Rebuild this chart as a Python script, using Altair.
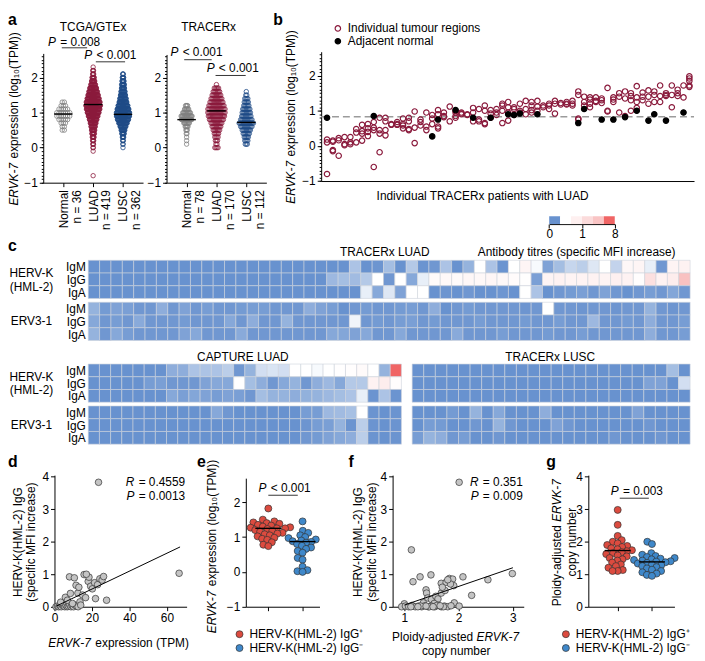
import altair as alt
import pandas as pd

FONT = "Liberation Sans"
W, H = 697, 652
SX, SY = 0.99, 0.99


def X(v):
    return SX * (v - 2)


def Y(v):
    return SY * v - 2


# ============================ DATA ============================
# ---- panel a: ERVK-7 log10(TPM); number of samples per 0.1-wide bin ----
A_GROUPS = ["Normal", "LUAD", "LUSC"]
A_COLORS = ["#808080", "#8a1a3c", "#1f4b87"]
A_TCGA_N = [36, 419, 362]
A_TCGA_BIN_START = [0.5, -0.8, 0.0]
A_TCGA_COUNTS = [
    [2, 2, 3, 5, 7, 7, 5, 3, 2],
    [1, 0, 0, 0, 0, 0, 0, 1, 2, 3, 4, 6, 8, 10, 13, 17, 22, 28, 34, 39, 42, 40, 35, 30, 25, 20, 14, 10, 7, 4, 3, 1],
    [1, 2, 3, 5, 8, 12, 18, 26, 34, 40, 40, 36, 30, 24, 20, 16, 13, 10, 9, 7, 5, 3],
]
A_TCGA_MEDIAN = [0.96, 1.23, 0.95]
A_TCGA_BRACKETS = [(-0.05, 0.80, 2.85), (1.09, 2.07, 2.45)]
A_TCGA_P = ["= 0.008", "< 0.001"]
A_TRACERX_N = [78, 170, 112]
A_TRACERX_BIN_START = [0.1, 0.0, 0.1]
A_TRACERX_COUNTS = [
    [1, 1, 1, 2, 3, 5, 9, 16, 17, 12, 7, 4],
    [4, 2, 3, 4, 5, 7, 9, 11, 14, 16, 17, 17, 15, 13, 11, 9, 7, 5, 1],
    [3, 4, 5, 7, 9, 12, 15, 12, 10, 9, 8, 6, 5, 4, 2, 1],
]
A_TRACERX_MEDIAN = [0.80, 1.05, 0.72]
A_TRACERX_BRACKETS = [(-0.08, 0.84, 2.51), (0.97, 1.98, 2.06)]
A_TRACERX_P = ["< 0.001", "< 0.001"]

# ---- panel b: tumour regions per TRACERx LUAD patient (log10 TPM) ----
B_KINDS = ["Individual tumour regions", "Adjacent normal"]
B_TUMOUR = [
    [-0.80, 0.18, 0.10], [0.15, 0.12, -0.12, -0.15], [0.22, 0.16, -0.28], [0.25, 0.05, 0.02],
    [0.25, 0.10, 0.05], [0.48, 0.38, 0.10], [0.60, 0.42, 0.35, 0.15], [0.62, 0.50, 0.40, 0.28],
    [0.68, 0.52, 0.45, -0.60], [0.80, 0.45, 0.35, -0.18], [0.80, 0.70, 0.45, 0.30], [0.62, 0.60],
    [0.68, 0.62, 0.60], [0.78, 0.62, 0.50, 0.58], [0.80, 0.70, 0.48, 0.45], [0.98, 0.52, 0.08],
    [0.75, 0.68, 0.58], [0.95, 0.55, 0.45], [0.88, 0.78, 0.62], [1.02, 0.90, 0.55, 0.50],
    [0.95, 0.85, 0.82], [1.12, 0.70], [1.00, 0.95, 0.85, 0.80], [0.95, 0.92, 0.90],
    [0.90, 0.88], [1.08, 0.95, 0.70], [1.05, 0.75, 0.70], [1.15, 1.00, 0.65, 0.62],
    [1.02, 0.92, 0.80], [1.05, 0.95, 0.88], [1.20, 1.15, 1.00, 0.65], [1.25, 1.10, 0.95, 0.72],
    [1.10, 1.05, 0.88], [1.20, 1.00, 0.95], [1.28, 1.05, 0.90], [1.25, 1.15, 1.02, 0.95],
    [1.28, 1.12, 1.00], [1.15, 1.10], [1.20, 1.15, 1.05], [1.28, 1.20, 0.92],
    [1.22, 1.18], [1.25, 1.20, 1.18], [1.28, 1.20, 1.15], [1.55, 1.45, 0.78, 0.75],
    [1.40, 1.25, 1.15], [1.38, 1.32, 1.20, 1.10], [1.38, 1.28, 1.25], [1.35, 1.30, 1.22],
    [1.65, 1.00, 0.98], [1.38, 1.32, 1.25], [1.50, 1.40, 0.95], [1.55, 1.35, 0.85],
    [1.50, 1.42, 1.30, 1.00], [1.70, 1.38, 1.25, 1.08], [1.52, 1.40, 1.30], [1.58, 1.40, 1.20],
    [1.55, 1.45, 1.25], [1.72, 1.42, 1.25], [1.50, 1.45, 1.42], [1.72, 1.45, 1.10],
    [1.60, 1.50, 1.42], [1.72, 1.38], [1.98, 1.92, 1.85, 1.72, 1.68],
]
B_NORMAL_PATIENT = [1, 9, 19, 20, 23, 26, 29, 32, 33, 34, 37, 44, 45, 48, 50, 52, 54, 56, 57, 59, 62]
B_NORMAL_VALUE = [0.80, 0.85, 0.27, 0.75, 1.02, 0.80, 0.80, 0.90, 0.88, 0.92, 0.90,
                  0.65, 1.05, 0.75, 0.75, 0.82, 1.00, 0.72, 0.90, 0.72, 0.95]
B_NORMAL_LEVEL = 0.83

# ---- panel c: antibody titres (specific MFI increase), rows IgM/IgG/IgA ----
C_ROWS = ["IgM", "IgG", "IgA"]
C_LUAD_HERVK = [
    [0, 0, 0, 0, 0, 0, 0, 0, 0, 0, 0, 0, 0, 0, 0, 0, 0, 0, 0, 0,
     0, 0, 0, .45, 0, .03, .40, 0, .50, .02, .05, .45, 0, .30, 1.0, .45, .02, 1.0, 1.45, .95,
     .15, .40, .62, .55, .78, 1.0, .60, 1.35, 1.45, .85, .05, 1.5, 1.6],
    [0, 0, 0, 0, 0, 0, 0, 0, 0, 0, 0, 0, 0, 0, 0, 0, 0, 0, 0, 0,
     0, .35, .40, .38, .50, 1.0, .05, 1.0, .20, .85, 1.25, 1.3, 1.25, 1.35, 1.3, 1.4, 1.3, 1.2, 1.05, .12,
     1.5, 1.6, 1.5, 1.55, 1.6, 1.5, 1.7, 1.6, 1.1, 2.4, 1.6, 1.8, 3.8],
    [0, 0, 0, 0, 0, 0, 0, 0, 0, 0, 0, 0, 0, 0, 0, 0, 0, 0, 0, 0,
     0, 0, 0, 0, .85, .20, .78, .15, 1.0, 1.0, 0, .03, 0, .05, 0, 0, .04, 0, 1.0, .45,
     0, .05, .08, .12, .05, .15, .05, 0, .05, .10, .05, .18, .05],
]
C_LUAD_ERV3 = [
    [.30, .08, .15, .12, .05, .05, .25, .05, .15, .05, .10, .05, .05, .08, .10, .10, .05, .05, .05, .25,
     .15, .10, 0, .05, .08, .05, .05, .08, .10, .05, .25, 0, .05, .08, .05, .05, .05, .05, .03, .05,
     1.0, .05, .05, .03, .05, .05, .03, .05, .05, .30, .05, .03, .05],
    [.20, .05, .10, .05, .22, .05, .05, .05, .08, .05, .05, .05, .20, .05, .25, .05, .05, .30, .05, .05,
     .05, .05, .05, .90, .05, .08, .05, .10, .12, .05, .08, .05, .05, .05, .10, .05, .05, .05, .08, .05,
     .05, .10, .05, .05, .35, .05, .05, .08, .05, .25, .05, .05, .10],
    [.30, .05, .20, .10, .05, .05, .05, .05, .15, .20, .05, .05, .05, .22, .05, .05, .05, .05, .05, .05,
     .05, .20, .18, .15, .20, .05, .05, .20, .05, .05, .05, .05, .22, .05, .05, .05, .10, .05, .05, .05,
     .08, .05, .05, .10, .05, .05, .05, .05, .05, .25, .05, .05, .10],
]
C_CAPTURE_HERVK = [
    [0, 0, 0, 0, 0, 0, 0, .25, .25, .45, .45, .45, .55, .05, .30, .70, .75, .70, 1.0, 1.0,
     .95, 1.0, 1.05, 1.1, 1.25, 1.0, .30, 8.0],
    [0, 0, 0, 0, 0, .10, .12, .05, .05, .05, .15, .20, .20, 1.0, .40, .25, .05, .20, .30, .05,
     .25, .35, .20, .50, .50, 1.6, 1.8, 1.1],
    [0, 0, 0, 0, 0, 0, 0, .20, .12, .18, .15, .10, .15, .12, .05, .40, .30, .30, .25, .28,
     .30, .35, .40, .45, .85, .02, .45, .02],
]
C_CAPTURE_ERV3 = [
    [0, 0, 0, 0, 0, 0, 0, 0, 0, 0, 0, .20, .05, 0, 0, 0, 0, 0, 0, .10,
     .10, .35, .38, .42, 1.0, .02, 0, .02],
    [0, 0, 0, 0, 0, 0, 0, 0, 0, 0, 0, 0, 0, 0, 0, 0, 0, 0, 0, .03,
     .10, .12, .30, .02, .55, .02, 0, .02],
    [0, 0, 0, 0, 0, 0, 0, 0, 0, 0, 0, 0, 0, 0, 0, 0, 0, 0, 0, .05,
     .08, .15, .20, .25, .55, .02, 0, .02],
]
C_LUSC_HERVK = [
    [0, 0, 0, 0, 0, 0, 0, 0, 0, 0, 0, 0, 0, 0, 0, 0, 0, 0, 0, 0, 0, 0, .40, 0],
    [0, 0, 0, 0, 0, 0, 0, 0, 0, 0, 0, 0, 0, 0, 0, 0, 0, 0, 0, 0, .15, .15, 0, .70],
    [0, 0, 0, 0, 0, 0, 0, 0, 0, 0, 0, 0, 0, 0, 0, 0, 0, 0, 0, 0, 0, 0, 0, 0],
]
C_LUSC_ERV3 = [
    [0, 0, 0, .08, 0, .30, 0, .20, 0, 0, 0, .25, 0, 0, 0, 0, 0, 0, 0, .15, 0, 0, 0, 0],
    [0, .10, .08, 0, 0, .05, 0, .30, .05, 0, 0, 0, .15, .05, 0, 0, 0, 0, 0, 0, .05, 0, 0, 0],
    [.10, .30, .25, .05, .10, 0, 0, .05, 0, 0, 0, 0, 0, 0, 0, 0, 0, .05, 0, 0, 0, .05, 0, 0],
]
C_LEGEND_VALUES = [0, 1, 1.7, 2.65, 3.7, 8]
C_LEGEND_TICKS = ["0", "1", "8"]

# ---- panel d: ERVK-7 TPM vs HERV-K IgG ----
D_TPM = [23.5, 66.5, 0.8, 1.6, 2.3, 3.0, 3.6, 4.2, 4.9, 5.5, 6.1, 6.8, 7.4, 8.1, 8.8, 9.5, 10.2, 11.0,
         11.8, 12.6, 3.3, 5.8, 6.9, 8.5, 8.0, 9.6, 10.6, 11.5, 12.5, 13.6, 14.0, 15.0, 15.8, 16.6,
         18.0, 18.4, 19.3, 20.2, 21.4, 21.9, 23.0, 24.2, 25.4, 26.2, 27.8, 17.0, 13.0]
D_IGG = [3.83, 1.03, 0.0, 0.02, 0.0, 0.03, 0.0, 0.05, 0.02, 0.0, 0.04, 0.0, 0.02, 0.06, 0.0, 0.03, 0.0, 0.05,
         0.02, 0.0, 0.14, 0.29, 0.20, 0.41, 0.92, 0.10, 0.89, 0.66, 0.42, 0.15, 0.05, 0.36, 0.99, 0.28,
         0.78, 0.91, 0.63, 0.55, 0.74, 0.25, 0.68, 0.86, 0.82, 0.93, 0.20, 1.00, 0.60]
D_FIT = [1.0, 0.02, 67.0, 1.84]
D_STATS = ["= 0.4559", "= 0.0013"]

# ---- panel e: ERVK-7 expression by IgG status ----
E_GROUPS = ["HERV-K(HML-2) IgG\u207a", "HERV-K(HML-2) IgG\u207b"]
E_POS = [1.82, 1.50, 1.45, 1.42, 1.40, 1.38, 1.35, 1.33, 1.30, 1.28, 1.27, 1.25, 1.25, 1.23, 1.20,
         1.18, 1.15, 1.12, 1.10, 1.08, 1.05, 1.02, 0.98, 0.95, 0.92, 0.85, 0.78, 0.74]
E_NEG = [1.45, 1.18, 1.12, 1.05, 1.00, 0.97, 0.93, 0.90, 0.88, 0.86, 0.84, 0.80, 0.75, 0.70, 0.66,
         0.60, 0.55, 0.40, 0.35, 0.15, 0.05, 0.02, 0.00]
E_MEDIAN = [1.25, 0.87]
E_P = "< 0.001"

# ---- panel f: copy number vs HERV-K IgG ----
F_CN = [2.01, 1.13, 1.16, 1.29, 1.49, 1.40, 1.41, 1.43, 1.50, 1.58, 1.62, 1.68, 1.68, 1.77, 1.83,
        1.89, 1.91, 2.08, 2.24, 2.54, 2.99, 1.92, 2.01, 1.00, 1.55, 1.35, 1.75, 1.85, 1.70, 1.80,
        0.95, 1.02, 1.08, 1.14, 1.20, 1.26, 1.32, 1.38, 1.44, 1.50, 1.56, 1.62, 1.68, 1.74, 1.80,
        1.86, 1.12, 1.30, 1.46, 1.60, 1.72, 1.25, 1.40, 1.53, 1.66]
F_IGG = [3.83, 1.75, 0.77, 0.92, 0.98, 0.52, 0.42, 0.27, 0.22, 0.32, 0.24, 0.42, 0.72, 0.75, 0.87,
         0.85, 0.65, 0.92, 0.35, 0.83, 1.02, 0.12, 0.02, 0.09, 0.10, 0.12, 0.50, 0.70, 0.60, 0.83,
         0.0, 0.02, 0.0, 0.04, 0.0, 0.02, 0.0, 0.03, 0.0, 0.02, 0.0, 0.04, 0.0, 0.02, 0.0,
         0.03, 0.0, 0.02, 0.0, 0.04, 0.0, 0.0, 0.02, 0.0, 0.03]
F_FIT = [1.0, 0.05, 3.0, 1.20]
F_STATS = ["= 0.351", "= 0.009"]

# ---- panel g: copy number by IgG status ----
G_POS = [2.98, 2.52, 2.18, 2.05, 2.00, 1.95, 1.90, 1.87, 1.84, 1.80, 1.77, 1.74, 1.71, 1.68, 1.65,
         1.62, 1.58, 1.55, 1.50, 1.46, 1.42, 1.36, 1.30, 1.25, 1.20, 1.13, 1.10, 1.10]
G_NEG = [2.00, 1.93, 1.65, 1.60, 1.56, 1.53, 1.50, 1.48, 1.46, 1.44, 1.42, 1.40, 1.39, 1.37, 1.35,
         1.33, 1.30, 1.28, 1.25, 1.22, 1.18, 1.14, 1.10, 1.06, 1.02, 0.98, 0.95]
G_MEDIAN = [1.73, 1.38]
G_P = "= 0.003"

# ============================ STYLE HELPERS ============================
MAROON_B = "#8a1a3c"
HM_SCALE = alt.Scale(type="linear", domain=[0, 1, 8], range=["#6892cf", "#ffffff", "#f06565"],
                     interpolate="rgb", clamp=True)
POS_RED, NEG_BLUE = "#dc4b3f", "#3f88ca"
PT_STROKE = "#333333"


def lin(d0, d1, r0, r1):
    return alt.Scale(type="linear", domain=[d0, d1], range=[r0, r1], nice=False, zero=False)


AX = dict(grid=False, title=None, domainColor="black", tickColor="black", labelColor="black",
          labelFont=FONT, labelFontSize=12, domainWidth=1, tickWidth=1, tickSize=4, labelPadding=2)


def left_axis(xpx, **kw):
    d = dict(AX)
    d.update(orient="left", offset=-X(xpx))
    d.update(kw)
    return alt.Axis(**d)


def bottom_axis(ypx, **kw):
    d = dict(AX)
    d.update(orient="bottom", offset=Y(ypx) - H, labelFlush=False)
    d.update(kw)
    return alt.Axis(**d)


def minor_axis(xpx, lo, hi):
    vals = [round(lo + 0.1 * i, 2) for i in range(int(round((hi - lo) * 10)) + 1)]
    return left_axis(xpx, values=vals, labels=False, domain=False, tickSize=2)


CW = {' ': 278, '(': 333, ')': 333, '-': 333, '.': 278, '/': 278, '=': 584, '<': 584,
      'A': 667, 'B': 667, 'C': 722, 'D': 722, 'E': 667, 'G': 778, 'H': 722, 'I': 278,
      'K': 667, 'L': 556, 'M': 833, 'N': 722, 'P': 667, 'R': 722, 'S': 667, 'T': 611,
      'U': 722, 'V': 667, 'X': 667, 'a': 556, 'b': 556, 'c': 500, 'd': 556, 'e': 556,
      'f': 278, 'g': 556, 'h': 556, 'i': 222, 'j': 222, 'k': 500, 'l': 222, 'm': 833,
      'n': 556, 'o': 556, 'p': 556, 'r': 333, 's': 500, 't': 278, 'u': 556, 'v': 500,
      'w': 722, 'x': 500, 'y': 500, 'z': 500, '\u2081': 420, '\u2080': 420}


def tw(s, size=12):
    return sum(CW.get(ch, 556) for ch in s) * size / 1000.0


ANN = []


def put(x, y, s, size=12, weight="normal", style="normal", align="left", angle=0):
    ANN.append(dict(x=float(x), y=float(y), t=s, size=float(size), weight=weight,
                    style=style, align=align, angle=int(angle)))


def mixed(xr, yr, pieces, anchor="center", rotated=False, size=12):
    xc, yc = X(xr), Y(yr)
    widths = [tw(p, size) + (1.0 if it else 0.0) for p, it in pieces]
    total = sum(widths)
    cur = {"center": -total / 2, "left": 0.0, "right": -total}[anchor]
    for (p, it), w in zip(pieces, widths):
        lead = tw(p[: len(p) - len(p.lstrip(" "))], size)
        pos = cur + lead
        st = "italic" if it else "normal"
        if rotated:
            put(xc, yc - pos, p.strip(), size, style=st, angle=270)
        else:
            put(xc + pos, yc, p.strip(), size, style=st)
        cur += w


def swarm(values, ppu_y, diam):
    order = sorted(range(len(values)), key=lambda i: values[i])
    placed, offs = [], [0.0] * len(values)
    for i in order:
        y = values[i] * ppu_y
        blocks, cands = [], [0.0]
        for px_, py_ in placed:
            dy = abs(py_ - y)
            if dy < diam:
                dx = (diam ** 2 - dy ** 2) ** 0.5
                blocks.append((px_ - dx, px_ + dx))
                cands += [px_ - dx, px_ + dx]
        cands.sort(key=lambda c: (abs(c), c))
        for c in cands:
            if all(not (lo + 1e-6 < c < hi - 1e-6) for lo, hi in blocks):
                offs[i] = c
                break
        placed.append((offs[i], y))
    return offs


layers = []

# ============================ PANEL a ============================
def panel_a(ax_px, cat0_px, right_px, top_val, starts, counts, medians, spacing, ns, brackets):
    ppu = 30.5
    xs = lin((ax_px - cat0_px) / ppu, (right_px - cat0_px) / ppu, X(ax_px), X(right_px))
    ys = lin(-1, top_val, Y(176.7), Y(176.7 - (top_val + 1) * 35.8))
    rows = []
    for gi in range(3):
        for k, n in enumerate(counts[gi]):
            v = round(starts[gi] + 0.1 * k, 3)
            for i in range(n):
                rows.append({"x": gi + (i - (n - 1) / 2) * spacing[gi] / ppu, "y": v, "g": A_GROUPS[gi]})
    pts = pd.DataFrame(rows)
    arr = "[" + ",".join("['%s','n = %d']" % (g, n) for g, n in zip(A_GROUPS, ns)) + "]"
    xax = bottom_axis(176.7, values=[0, 1, 2], labelExpr=arr + "[datum.value]", labelAngle=270,
                      labelAlign="right", labelBaseline="middle", labelLineHeight=13, labelPadding=3)
    out = [alt.Chart(pts).mark_point(filled=False, size=20, strokeWidth=0.8, opacity=1).encode(
        x=alt.X("x:Q", scale=xs, axis=xax),
        y=alt.Y("y:Q", scale=ys, axis=left_axis(ax_px, values=[-1, 0, 1, 2])),
        color=alt.Color("g:N", scale=alt.Scale(domain=A_GROUPS, range=A_COLORS), legend=None))]
    med = pd.DataFrame({"x": [i - 0.31 for i in range(3)], "x2": [i + 0.31 for i in range(3)], "y": medians})
    out.append(alt.Chart(med).mark_rule(color="black", strokeWidth=1.4).encode(
        x=alt.X("x:Q", scale=xs, axis=None), x2="x2:Q",
        y=alt.Y("y:Q", scale=ys, axis=minor_axis(ax_px, -1, top_val - 0.05))))
    br = pd.DataFrame(brackets, columns=["x", "x2", "y"])
    out.append(alt.Chart(br).mark_rule(color="black", strokeWidth=0.8).encode(
        x=alt.X("x:Q", scale=xs, axis=None), x2="x2:Q", y=alt.Y("y:Q", scale=ys, axis=None)))
    return out


layers += panel_a(38, 58.5, 140, 2.69, A_TCGA_BIN_START, A_TCGA_COUNTS, A_TCGA_MEDIAN,
                  [2.2, 0.36, 0.34], A_TCGA_N, A_TCGA_BRACKETS)
layers += panel_a(164, 184.5, 266, 2.66, A_TRACERX_BIN_START, A_TRACERX_COUNTS, A_TRACERX_MEDIAN,
                  [0.7, 1.1, 1.05], A_TRACERX_N, A_TRACERX_BRACKETS)

# ============================ PANEL b ============================
xs_b = lin(0, 63.8, X(322), X(703))
ys_b = lin(-1, 2.68, Y(175), Y(175 - 3.68 * 35.9))
rows = []
for p, vals in enumerate(B_TUMOUR, start=1):
    for v in vals:
        rows.append({"p": p, "v": v, "k": B_KINDS[0]})
for p, v in zip(B_NORMAL_PATIENT, B_NORMAL_VALUE):
    rows.append({"p": p, "v": v, "k": B_KINDS[1]})
b_df = pd.DataFrame(rows)
layers.append(alt.Chart(pd.DataFrame({"x": [0], "x2": [63.8], "y": [B_NORMAL_LEVEL]})).mark_rule(
    color="#9b9b9b", strokeWidth=1.3, strokeDash=[7, 4]).encode(
    x=alt.X("x:Q", scale=xs_b, axis=None), x2="x2:Q",
    y=alt.Y("y:Q", scale=ys_b, axis=minor_axis(322, -1, 2.6))))
b_leg = dict(orient="none", legendX=X(333), legendY=Y(13), title=None, labelFont=FONT, labelFontSize=12,
             labelColor="black", symbolSize=30, symbolStrokeWidth=1.2, rowPadding=1, labelOffset=4, padding=0)
layers.append(alt.Chart(b_df).mark_point(size=30, strokeWidth=1.2, opacity=1).encode(
    x=alt.X("p:Q", scale=xs_b, axis=bottom_axis(175, ticks=False, labels=False)),
    y=alt.Y("v:Q", scale=ys_b, axis=left_axis(322, values=[-1, 0, 1, 2])),
    stroke=alt.Stroke("k:N", scale=alt.Scale(domain=B_KINDS, range=[MAROON_B, "black"]), legend=alt.Legend(**b_leg)),
    fill=alt.Fill("k:N", scale=alt.Scale(domain=B_KINDS, range=["transparent", "black"]), legend=alt.Legend(**b_leg))))

# ============================ PANEL c ============================
def heat(hervk, erv3, x0, x1, y0, labels):
    ncol = len(hervk[0])
    xs = lin(0, ncol, X(x0), X(x1))
    ys = lin(0, 6.3, Y(y0), Y(y0 + 6.3 * 13))
    rows = []
    for block, base in ((hervk, 0.0), (erv3, 3.3)):
        for ri, vals in enumerate(block):
            for ci, v in enumerate(vals):
                rows.append({"c": ci, "c2": ci + 1, "r": base + ri, "r2": base + ri + 1, "v": v})
    yax = None
    if labels:
        yax = left_axis(x0, values=[0.5, 1.5, 2.5, 3.8, 4.8, 5.8], ticks=False, domain=False, labelPadding=3,
                        labelExpr="['IgM','IgG','IgA'][datum.value < 3 ? floor(datum.value) : floor(datum.value - 3.3)]")
    return alt.Chart(pd.DataFrame(rows)).mark_rect(stroke="#cdd3dc", strokeWidth=0.6).encode(
        x=alt.X("c:Q", scale=xs, axis=None), x2="c2:Q",
        y=alt.Y("r:Q", scale=ys, axis=yax), y2="r2:Q",
        color=alt.Color("v:Q", scale=HM_SCALE, legend=None))


layers.append(heat(C_LUAD_HERVK, C_LUAD_ERV3, 84, 699, 256, True))
layers.append(heat(C_CAPTURE_HERVK, C_CAPTURE_ERV3, 84, 404, 362, True))
layers.append(heat(C_LUSC_HERVK, C_LUSC_ERV3, 415, 699, 362, False))

cb = pd.DataFrame({"s": list(range(6)), "s2": list(range(1, 7)), "v": C_LEGEND_VALUES, "y": [0] * 6, "y2": [1] * 6})
layers.append(alt.Chart(cb).mark_rect().encode(
    x=alt.X("s:Q", scale=lin(0, 6, X(555), X(622)),
            axis=bottom_axis(219, values=[0, 3, 6], labelPadding=1,
                             labelExpr="datum.value == 0 ? '%s' : datum.value == 3 ? '%s' : '%s'" % tuple(C_LEGEND_TICKS))),
    x2="s2:Q",
    y=alt.Y("y:Q", scale=lin(0, 1, Y(219), Y(211)), axis=None), y2="y2:Q",
    color=alt.Color("v:Q", scale=HM_SCALE, legend=None)))

# ============================ PANELS d & f ============================
def scatter(xv, yv, xs, ys, xax, yax, fit):
    pts = alt.Chart(pd.DataFrame({"x": xv, "y": yv})).mark_circle(
        size=45, color="#c4c4c4", stroke=PT_STROKE, strokeWidth=0.7, opacity=1).encode(
        x=alt.X("x:Q", scale=xs, axis=xax), y=alt.Y("y:Q", scale=ys, axis=yax))
    line = alt.Chart(pd.DataFrame({"x": [fit[0]], "y": [fit[1]], "x2": [fit[2]], "y2": [fit[3]]})).mark_rule(
        color="black", strokeWidth=1).encode(
        x=alt.X("x:Q", scale=xs, axis=None), x2="x2:Q", y=alt.Y("y:Q", scale=ys, axis=None), y2="y2:Q")
    return [pts, line]


ys_mfi = lin(0, 4.05, Y(610), Y(610 - 4.05 * 33.2))
layers += scatter(D_TPM, D_IGG, lin(0, 70.5, X(49.5), X(49.5 + 70.5 * 1.915)), ys_mfi,
                  bottom_axis(610, values=[0, 20, 40, 60]), left_axis(49.5, values=[0, 1, 2, 3, 4]), D_FIT)
layers += scatter(F_CN, F_IGG, lin(0.784, 3.2, X(395), X(529)), ys_mfi,
                  bottom_axis(610, values=[1, 2, 3]), left_axis(395, values=[0, 1, 2, 3, 4]), F_FIT)

# ============================ PANELS e & g ============================
def swarm_panel(pos, neg, meds, ax_px, cat0_px, right_px, ys, ppu_y, yvals, bracket, leg_x):
    ppu_x = 35.0
    xs = lin((ax_px - cat0_px) / ppu_x, (right_px - cat0_px) / ppu_x, X(ax_px), X(right_px))
    rows = []
    for gi, vals in enumerate((pos, neg)):
        for v, o in zip(vals, swarm(vals, ppu_y, 5.3)):
            rows.append({"x": gi + o / ppu_x, "y": v, "g": E_GROUPS[gi]})
    leg = alt.Legend(orient="none", legendX=X(leg_x), legendY=Y(632), title=None, labelFont=FONT,
                     labelFontSize=12, labelColor="black", symbolSize=50, symbolType="circle",
                     symbolStrokeColor=PT_STROKE, symbolStrokeWidth=0.7, rowPadding=2, labelOffset=4, padding=0)
    out = [alt.Chart(pd.DataFrame(rows)).mark_circle(size=50, stroke=PT_STROKE, strokeWidth=0.7, opacity=1).encode(
        x=alt.X("x:Q", scale=xs, axis=bottom_axis(610, values=[0, 1], labels=False)),
        y=alt.Y("y:Q", scale=ys, axis=left_axis(ax_px, values=yvals)),
        fill=alt.Fill("g:N", scale=alt.Scale(domain=E_GROUPS, range=[POS_RED, NEG_BLUE]), legend=leg))]
    med = pd.DataFrame({"x": [-0.38, 0.62], "x2": [0.38, 1.38], "y": meds})
    out.append(alt.Chart(med).mark_rule(color="black", strokeWidth=1.4).encode(
        x=alt.X("x:Q", scale=xs, axis=None), x2="x2:Q", y=alt.Y("y:Q", scale=ys, axis=None)))
    out.append(alt.Chart(pd.DataFrame([bracket], columns=["x", "x2", "y"])).mark_rule(color="black", strokeWidth=0.8).encode(
        x=alt.X("x:Q", scale=xs, axis=None), x2="x2:Q", y=alt.Y("y:Q", scale=ys, axis=None)))
    return out


layers += swarm_panel(E_POS, E_NEG, E_MEDIAN, 245, 268, 320.3, lin(-1, 2.69, Y(610), Y(610 - 3.69 * 35.6)),
                      35.6, [-1, 0, 1, 2], (0.0, 0.86, 2.2), 232.5)
layers += swarm_panel(G_POS, G_NEG, G_MEDIAN, 595, 625, 683, ys_mfi, 33.2, [0, 1, 2, 3, 4],
                      (0.06, 0.91, 3.34), 566)

# ============================ TEXT ============================
for s, x, y in (("a", 2, 11), ("b", 273, 11), ("c", 2, 241), ("d", 2, 462), ("e", 195, 462), ("f", 350, 462), ("g", 552, 462)):
    put(X(x), Y(y), s, 16, weight="bold")

YT = [("ERVK-7", True), (" expression (log\u2081\u2080(TPM))", False)]
put(X(89), Y(18), "TCGA/GTEx", align="center")
put(X(207), Y(18), "TRACERx", align="center")
mixed(43, 33, [("P", True), (" " + A_TCGA_P[0], False)], "left")
mixed(80, 46, [("P", True), (" " + A_TCGA_P[1], False)], "left")
mixed(168, 43, [("P", True), (" " + A_TRACERX_P[0], False)], "left")
mixed(205, 60, [("P", True), (" " + A_TRACERX_P[1], False)], "left")
mixed(8, 111, YT, rotated=True)
mixed(291, 109, YT, rotated=True)
put(X(487), Y(190), "Individual TRACERx patients with LUAD", align="center")
put(X(387), Y(248), "TRACERx LUAD", align="center")
put(X(583), Y(248), "Antibody titres (specific MFI increase)", align="center")
put(X(242), Y(355), "CAPTURE LUAD", align="center")
put(X(556), Y(355), "TRACERx LUSC", align="center")
for y0 in (256, 362):
    put(X(26), Y(y0 + 13), "HERV-K", align="center")
    put(X(26), Y(y0 + 27), "(HML-2)", align="center")
    put(X(26), Y(y0 + 62), "ERV3-1", align="center")
mixed(183, 483, [("R", True), (" " + D_STATS[0], False)], "right")
mixed(183, 497, [("P", True), (" " + D_STATS[1], False)], "right")
mixed(258, 489, [("P", True), (" " + E_P, False)], "left")
mixed(528, 483, [("R", True), (" " + F_STATS[0], False)], "right")
mixed(528, 497, [("P", True), (" " + F_STATS[1], False)], "right")
mixed(618, 492, [("P", True), (" " + G_P, False)], "left")
mixed(115, 647, [("ERVK-7", True), (" expression (TPM)", False)], "center")
mixed(460, 641, [("Ploidy-adjusted ", False), ("ERVK-7", True)], "center")
put(X(460), Y(655), "copy number", align="center")
for xx in (12, 360):
    put(X(xx), Y(544), "HERV-K(HML-2) IgG", align="center", angle=270)
    put(X(xx + 14), Y(544), "(specific MFI increase)", align="center", angle=270)
mixed(210, 548, YT, rotated=True)
mixed(563, 544, [("Ploidy-adjusted ", False), ("ERVK-7", True)], rotated=True)
put(X(578), Y(544), "copy number", align="center", angle=270)

ann = pd.DataFrame(ANN)
for (size, weight, style, align, angle), sub in ann.groupby(["size", "weight", "style", "align", "angle"]):
    layers.append(alt.Chart(sub[["x", "y", "t"]].reset_index(drop=True)).mark_text(
        font=FONT, fontSize=float(size), fontWeight=str(weight), fontStyle=str(style), align=str(align),
        angle=int(angle), baseline="middle", color="black").encode(
        x=alt.X("x:Q", scale=None), y=alt.Y("y:Q", scale=None), text="t:N"))

chart = alt.layer(*layers).resolve_scale(
    x="independent", y="independent", color="independent", fill="independent", stroke="independent"
).properties(width=W, height=H, padding=0, autosize=alt.AutoSizeParams(type="none")
).configure_view(stroke=None)

chart.save("out.html", embed_options={"renderer": "svg", "actions": False})
